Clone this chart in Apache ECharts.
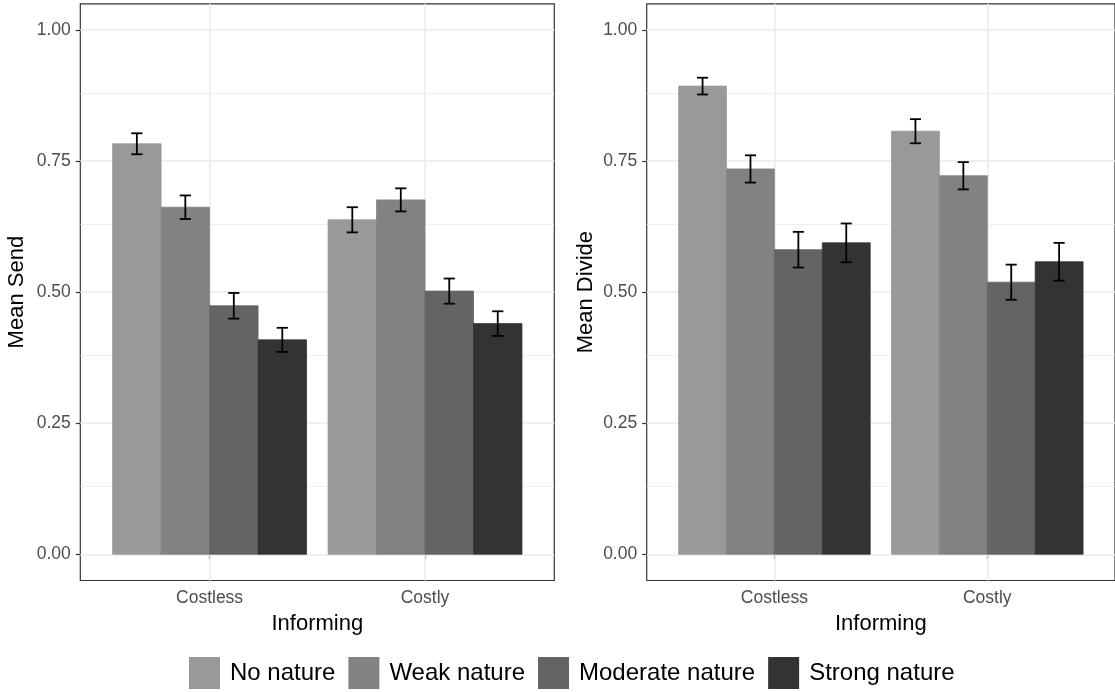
<!DOCTYPE html>
<html>
<head>
<meta charset="utf-8">
<script src="https://cdn.jsdelivr.net/npm/echarts@6/dist/echarts.min.js"></script>
<style>
html,body{margin:0;padding:0;background:#fff;}
#chart{width:1115px;height:692px;}
</style>
</head>
<body>
<div id="chart"></div>
<script>
// ---- data ----
const categories = ['Costless', 'Costly'];
const natures = ['No nature', 'Weak nature', 'Moderate nature', 'Strong nature'];
// Mean Send, per nature: [Costless, Costly]
const sendMean = [
  [0.783, 0.638],
  [0.662, 0.676],
  [0.474, 0.502],
  [0.409, 0.440]
];
const sendErr = [
  [0.020, 0.024],
  [0.0225, 0.022],
  [0.0245, 0.024],
  [0.023, 0.0235]
];
// Mean Divide, per nature: [Costless, Costly]
const divideMean = [
  [0.893, 0.807],
  [0.735, 0.722],
  [0.581, 0.519],
  [0.594, 0.558]
];
const divideErr = [
  [0.016, 0.023],
  [0.026, 0.026],
  [0.034, 0.0335],
  [0.037, 0.036]
];
const yTicks = [0, 0.25, 0.5, 0.75, 1];
const yMinor = [0.125, 0.375, 0.625, 0.875];

// ---- style ----
const fills = ['#999999', '#828282', '#646464', '#333333'];
const FONT = '"Liberation Sans", Arial, Helvetica, sans-serif';
const DODGE = 0.9;
const BARW = DODGE / natures.length;
const CAPW = 0.026;

const chart = echarts.init(document.getElementById('chart'), null, {renderer: 'canvas'});

function makeRender(sIdx) {
  return function (params, api) {
    const gi = api.value(0);
    const v = api.value(1);
    const e = api.value(2);
    const xc = (gi + 1) + (sIdx - (natures.length - 1) / 2) * BARW;
    const p0 = api.coord([xc - BARW / 2, v]);
    const p1 = api.coord([xc + BARW / 2, 0]);
    const top = api.coord([xc, v + e]);
    const bot = api.coord([xc, v - e]);
    const cl = api.coord([xc - CAPW, v])[0];
    const cr = api.coord([xc + CAPW, v])[0];
    const ls = {stroke: '#000', lineWidth: 1.8};
    return {
      type: 'group',
      children: [
        {type: 'rect', shape: {x: p0[0], y: p0[1], width: p1[0] - p0[0], height: p1[1] - p0[1]},
         style: {fill: fills[sIdx], stroke: fills[sIdx], lineWidth: 0.8}},
        {type: 'line', shape: {x1: top[0], y1: top[1], x2: bot[0], y2: bot[1]}, style: ls, z2: 5},
        {type: 'line', shape: {x1: cl, y1: top[1], x2: cr, y2: top[1]}, style: ls, z2: 5},
        {type: 'line', shape: {x1: cl, y1: bot[1], x2: cr, y2: bot[1]}, style: ls, z2: 5}
      ]
    };
  };
}

function gridLinesSeries(idx) {
  const data = [];
  yMinor.forEach(v => data.push({yAxis: v, lineStyle: {color: '#EBEBEB', width: 0.8, type: 'solid'}}));
  yTicks.forEach(v => data.push({yAxis: v, lineStyle: {color: '#EBEBEB', width: 1.5, type: 'solid'}}));
  categories.forEach((c, i) => data.push({xAxis: i + 1, lineStyle: {color: '#EBEBEB', width: 1.5, type: 'solid'}}));
  return {
    type: 'custom', xAxisIndex: idx, yAxisIndex: idx, z: 1,
    data: [], renderItem: () => null, silent: true,
    markLine: {silent: true, z: 1, symbol: ['none', 'none'], label: {show: false},
      emphasis: {disabled: true}, animation: false, data: data}
  };
}

const series = [];
[ [sendMean, sendErr], [divideMean, divideErr] ].forEach((pair, gIdx) => {
  series.push(gridLinesSeries(gIdx));
  natures.forEach((n, s) => {
    series.push({
      name: n, type: 'custom', xAxisIndex: gIdx, yAxisIndex: gIdx, z: 3,
      itemStyle: {color: fills[s]},
      renderItem: makeRender(s),
      encode: {x: 0, y: 1},
      data: categories.map((c, i) => [i, pair[0][s][i], pair[1][s][i]])
    });
  });
});

function xAxisFor(idx) {
  return {
    type: 'value', gridIndex: idx, min: 0.4, max: 2.6,
    name: 'Informing', nameLocation: 'middle', nameGap: 32,
    nameTextStyle: {fontFamily: FONT, fontSize: 22, color: '#000'},
    axisLine: {show: false},
    axisTick: {show: true, length: 4.5, customValues: [1, 2], lineStyle: {color: '#333333', width: 1.2}},
    axisLabel: {show: true, customValues: [1, 2], margin: 9,
      formatter: v => categories[Math.round(v) - 1] || '',
      fontFamily: FONT, fontSize: 17.5, color: '#4D4D4D'},
    splitLine: {show: false}
  };
}
function yAxisFor(idx, title, gap) {
  return {
    type: 'value', gridIndex: idx, min: -0.05, max: 1.05,
    name: title, nameLocation: 'middle', nameGap: gap, nameRotate: 90,
    nameTextStyle: {fontFamily: FONT, fontSize: 22, color: '#000'},
    axisLine: {show: false},
    axisTick: {show: true, length: 4.5, customValues: yTicks, lineStyle: {color: '#333333', width: 1.2}},
    axisLabel: {show: true, customValues: yTicks, margin: 9.5,
      formatter: v => v.toFixed(2),
      fontFamily: FONT, fontSize: 17.5, color: '#4D4D4D'},
    splitLine: {show: false}
  };
}

chart.setOption({
  animation: false,
  backgroundColor: '#ffffff',
  grid: [
    {left: 80.3, top: 3.8, width: 474, height: 576.7, show: true, borderColor: '#333333', borderWidth: 1.2, backgroundColor: 'transparent'},
    {left: 646.7, top: 3.8, width: 473.7, height: 576.7, show: true, borderColor: '#333333', borderWidth: 1.2, backgroundColor: 'transparent'}
  ],
  xAxis: [xAxisFor(0), xAxisFor(1)],
  yAxis: [yAxisFor(0, 'Mean Send', 52.5), yAxisFor(1, 'Mean Divide', 49.5)],
  legend: {
    data: natures.map(n => ({name: n, icon: 'rect'})),
    left: 189, top: 657, orient: 'horizontal', padding: 0,
    itemWidth: 31, itemHeight: 32, itemGap: 13,
    selectedMode: false,
    textStyle: {fontFamily: FONT, fontSize: 24, color: '#000', padding: [0, 0, 0, 5]}
  },
  series: series
});
</script>
</body>
</html>
